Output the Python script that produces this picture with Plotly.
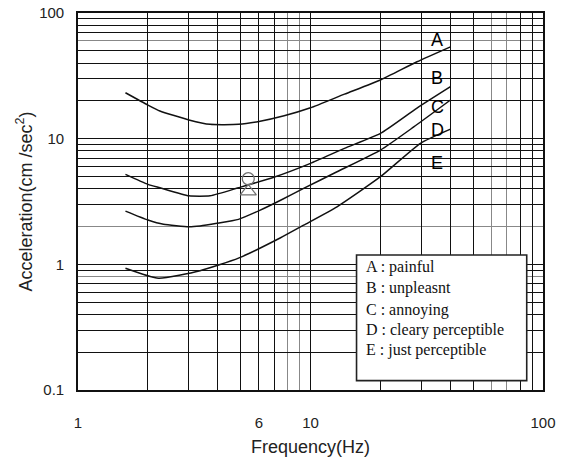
import math
import plotly.graph_objects as go

# Frequency (Hz) / acceleration (cm/sec^2) readings for each perception curve
freq_a = [1.6, 2.0, 2.25, 3.0, 3.7, 4.9, 6.0, 7.7, 10, 14, 20, 28.7, 40]
acc_a = [23.2, 18.5, 16.6, 14.1, 13.0, 13.0, 13.7, 15.2, 17.6, 22.6, 29.3, 40.9, 53.8]

freq_b = [1.6, 2.0, 2.25, 3.0, 3.7, 4.9, 7.0, 10, 14, 20, 28.7, 40]
acc_b = [5.2, 4.33, 4.07, 3.51, 3.51, 4.07, 4.95, 6.36, 8.37, 11.0, 17.5, 25.9]

freq_c = [1.6, 2.0, 2.33, 3.0, 3.35, 3.96, 4.9, 6.08, 7.4, 9.34, 13, 20, 27.8, 40]
acc_c = [2.65, 2.25, 2.08, 1.99, 2.02, 2.12, 2.28, 2.70, 3.22, 4.02, 5.45, 8.11, 12.4, 20.3]

freq_d = [1.6, 2.22, 3.35, 4.9, 7.4, 9.34, 13, 20, 29.7, 40]
acc_d = [0.93, 0.774, 0.89, 1.12, 1.62, 2.05, 2.87, 4.98, 9.18, 11.9]

# Person symbol (head + body) near 6 Hz
person_freq = [5.4]
person_head = [4.8]
person_body = [3.8]

# Curve letters at the right-hand end
letter_text = ["A", "B", "C", "D", "E"]
letter_freq = 35.1
letter_acc = [60.9, 30.3, 17.8, 11.7, 6.4]

legend_lines = [
    "A : painful",
    "B : unpleasnt",
    "C : annoying",
    "D : cleary perceptible",
    "E : just perceptible",
]

# Axis ticks
x_labels = {1: "1", 6: "6", 10: "10", 100: "100"}
y_labels = {0.1: "0.1", 1: "1", 10: "10", 100: "100"}
x_grid_light = [8, 9, 60, 70]
y_grid_light = [0.8, 2, 60]


def decade_values(lo, hi):
    vals = []
    d = lo
    while d < hi:
        for m in range(1, 10):
            vals.append(round(m * d, 6))
        d *= 10
    vals.append(hi)
    return vals


x_all = decade_values(1, 100)
y_all = decade_values(0.1, 100)
x_major = [v for v in x_all if v not in x_grid_light]
y_major = [v for v in y_all if v not in y_grid_light]

fig = go.Figure()

for fx, fy in [(freq_a, acc_a), (freq_b, acc_b), (freq_c, acc_c), (freq_d, acc_d)]:
    fig.add_trace(go.Scatter(
        x=fx, y=fy, mode="lines",
        line=dict(color="#111111", width=1.5, shape="spline", smoothing=0.5),
        showlegend=False, hoverinfo="skip",
    ))

fig.add_trace(go.Scatter(
    x=person_freq, y=person_head, mode="markers",
    marker=dict(symbol="circle-open", size=12, color="#707070", line=dict(width=1.3)),
    showlegend=False,
))
fig.add_trace(go.Scatter(
    x=person_freq, y=person_body, mode="markers",
    marker=dict(symbol="triangle-up-open", size=14, color="#707070", line=dict(width=1.3)),
    showlegend=False,
))

for t, v in zip(letter_text, letter_acc):
    fig.add_annotation(
        x=math.log10(letter_freq), y=math.log10(v), text=t, showarrow=False,
        font=dict(family="Liberation Sans, Arial", size=18, color="#000000"),
        xanchor="center", yanchor="middle",
    )

# Key box
fig.add_shape(
    type="rect", xref="paper", yref="paper",
    x0=0.599, x1=0.965, y0=0.025, y1=0.358,
    line=dict(color="#222222", width=1.6), fillcolor="white", layer="above",
)
key_y = [0.327, 0.271, 0.213, 0.159, 0.106]
for txt, yy in zip(legend_lines, key_y):
    fig.add_annotation(
        xref="paper", yref="paper", x=0.615, y=yy, text=txt, showarrow=False,
        xanchor="left", yanchor="middle",
        font=dict(family="Liberation Serif, Times New Roman, serif", size=16, color="#111111"),
    )

# Axis titles
fig.add_annotation(
    xref="paper", yref="paper", x=0.5, y=-0.151, text="Frequency(Hz)", showarrow=False,
    xanchor="center", yanchor="middle",
    font=dict(family="Liberation Sans, Arial", size=18, color="#222222"),
)
fig.add_annotation(
    xref="paper", yref="paper", x=-0.114, y=0.5, text="Acceleration(cm /sec<sup>2</sup>)",
    showarrow=False, textangle=-90, xanchor="center", yanchor="middle",
    font=dict(family="Liberation Sans, Arial", size=18, color="#222222"),
)

axis_font = dict(family="Liberation Sans, Arial", size=15, color="#222222")

fig.update_xaxes(
    type="log", range=[0, 2], automargin=False,
    tickmode="array", tickvals=x_major,
    ticktext=[x_labels.get(v, "") for v in x_major],
    showgrid=True, gridcolor="#111111", gridwidth=1,
    minor=dict(tickmode="array", tickvals=x_grid_light, showgrid=True,
               gridcolor="#888888", gridwidth=1.3, ticks=""),
    showline=True, linecolor="#111111", linewidth=1.6, mirror=True,
    ticks="", ticklabelstandoff=18, tickfont=axis_font, zeroline=False,
)
fig.update_yaxes(
    type="log", range=[-1, 2], automargin=False,
    tickmode="array", tickvals=y_major,
    ticktext=[y_labels.get(v, "") for v in y_major],
    showgrid=True, gridcolor="#111111", gridwidth=1,
    minor=dict(tickmode="array", tickvals=y_grid_light, showgrid=True,
               gridcolor="#888888", gridwidth=1.3, ticks=""),
    showline=True, linecolor="#111111", linewidth=1.6, mirror=True,
    ticks="", ticklabelstandoff=9, tickfont=axis_font, zeroline=False,
)

fig.update_layout(
    width=565, height=465,
    margin=dict(l=78, r=22, t=13, b=75),
    paper_bgcolor="white", plot_bgcolor="white",
    showlegend=False,
)

fig.write_html("out.html")
